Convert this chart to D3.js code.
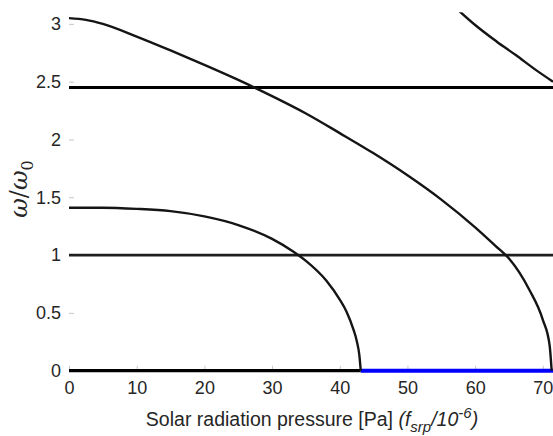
<!DOCTYPE html>
<html>
<head>
<meta charset="utf-8">
<script src="https://cdn.jsdelivr.net/npm/d3@7"></script>
<style>
  html, body { margin: 0; padding: 0; background: #fff; overflow: hidden; }
  svg { display: block; }
</style>
</head>
<body>
<svg id="chart" width="553" height="436"></svg>
<script>
// ---- data ----
const xTicks = [0, 10, 20, 30, 40, 50, 60, 70];
const yTicks = [0, 0.5, 1, 1.5, 2, 2.5, 3];
const yTickLabels = ["0", "0.5", "1", "1.5", "2", "2.5", "3"];

const hLevels = [1, 2.45];          // full-width horizontal branches
const zeroBlackEnd = 43.1;           // zero branch drawn black up to here
const blueRange = [43.1, 71.5];      // zero branch drawn blue

const curve1X = [0, 5, 10, 15, 20, 25, 30, 33, 35, 38, 40, 41, 42, 42.5, 42.9, 43.1];
const curve1Y = [1.41, 1.41, 1.40, 1.38, 1.335, 1.26, 1.14, 1.035, 0.95, 0.78, 0.615, 0.51, 0.36, 0.26, 0.13, 0];

const curve2X = [0, 2.5, 5, 10, 15, 20, 25, 30, 35, 40, 45, 50, 55, 60, 63, 65, 68, 70, 71, 71.3];
const curve2Y = [3.05, 3.035, 3.0, 2.89, 2.77, 2.645, 2.515, 2.375, 2.225, 2.055, 1.88, 1.69, 1.48, 1.24, 1.08, 0.97, 0.70, 0.44, 0.22, 0];

const curve3X = [57.3, 57.86, 60, 63.2, 66, 69, 71.5];
const curve3Y = [3.13, 3.10, 2.99, 2.846, 2.73, 2.60, 2.50];

const xLabelMain = "Solar radiation pressure [Pa] ";

// ---- scales ----
const svg = d3.select("#chart");
const x = d3.scaleLinear().domain([0, 71.5]).range([69, 553]);
const y = d3.scaleLinear().domain([0, 3.1]).range([370.7, 12.3]);

const defs = svg.append("defs");
defs.append("clipPath").attr("id", "plotclip")
  .append("rect")
  .attr("x", x(0) - 2).attr("y", y(3.1))
  .attr("width", x(71.5) - x(0) + 4).attr("height", y(0) - y(3.1) + 4);

// ---- axes (ticks only, MATLAB-style inward, light) ----
const tickFont = "Liberation Sans, Arial, sans-serif";
const xAxis = d3.axisBottom(x).tickValues(xTicks).tickSize(-5).tickPadding(11)
  .tickFormat(d3.format("d"));
const gx = svg.append("g").attr("transform", `translate(0,${y(0)})`).call(xAxis);
gx.select(".domain").remove();
gx.selectAll(".tick line").attr("stroke", "#c8c8c8");
gx.selectAll(".tick text").attr("fill", "#262626")
  .style("font-family", tickFont).style("font-size", "18px");

const yAxis = d3.axisLeft(y).tickValues(yTicks).tickSize(-5).tickPadding(8)
  .tickFormat((d, i) => yTickLabels[i]);
const gy = svg.append("g").attr("transform", `translate(${x(0)},0)`).call(yAxis);
gy.select(".domain").remove();
gy.selectAll(".tick line").attr("stroke", "#c8c8c8");
gy.selectAll(".tick text").attr("fill", "#262626")
  .style("font-family", tickFont).style("font-size", "18px");

// ---- marks ----
const plot = svg.append("g").attr("clip-path", "url(#plotclip)");
const line = d3.line().x(d => x(d[0])).y(d => y(d[1])).curve(d3.curveMonotoneX);

// horizontal branches
plot.append("path")
  .attr("d", d3.line()([[x(0), y(hLevels[0])], [x(71.5), y(hLevels[0])]]))
  .attr("stroke", "#1e1e1e").attr("stroke-width", 2.6).attr("fill", "none");
plot.append("path")
  .attr("d", d3.line()([[x(0), y(hLevels[1])], [x(71.5), y(hLevels[1])]]))
  .attr("stroke", "#000").attr("stroke-width", 3).attr("fill", "none");

// zero branch
plot.append("path")
  .attr("d", d3.line()([[x(0), y(0)], [x(zeroBlackEnd), y(0)]]))
  .attr("stroke", "#000").attr("stroke-width", 3.2).attr("fill", "none");
plot.append("path")
  .attr("d", d3.line()([[x(blueRange[0]), y(0)], [x(blueRange[1]), y(0)]]))
  .attr("stroke", "#0000ff").attr("stroke-width", 4).attr("fill", "none");

// curves
const c1 = curve1X.map((v, i) => [v, curve1Y[i]]);
const c2 = curve2X.map((v, i) => [v, curve2Y[i]]);
const c3 = curve3X.map((v, i) => [v, curve3Y[i]]);
[c1, c2, c3].forEach(c => {
  plot.append("path").attr("d", line(c))
    .attr("stroke", "#151515").attr("stroke-width", 2.4).attr("fill", "none")
    .attr("stroke-linejoin", "round");
});

// ---- labels ----
const xl = svg.append("text")
  .attr("x", 312).attr("y", 426)
  .attr("text-anchor", "middle")
  .attr("fill", "#262626")
  .style("font-family", tickFont)
  .style("font-size", "19.5px");
xl.append("tspan").text(xLabelMain);
xl.append("tspan").style("font-style", "italic").text("(f");
xl.append("tspan").style("font-style", "italic").attr("dy", 6).style("font-size", "15px").text("srp");
xl.append("tspan").style("font-style", "italic").attr("dy", -6).text("/10");
xl.append("tspan").style("font-style", "italic").attr("dy", -8).style("font-size", "15px").text("-6");
xl.append("tspan").style("font-style", "italic").attr("dy", 8).text(")");

const yl = svg.append("text")
  .attr("transform", "translate(27,189) rotate(-90)")
  .attr("text-anchor", "middle")
  .attr("fill", "#262626")
  .style("font-family", "DejaVu Serif, Liberation Serif, serif")
  .style("font-size", "24px");
yl.append("tspan").style("font-style", "italic").text("ω");
yl.append("tspan").text("/");
yl.append("tspan").style("font-style", "italic").text("ω");
yl.append("tspan").attr("dy", 6).style("font-size", "16px").text("0");
</script>
</body>
</html>
